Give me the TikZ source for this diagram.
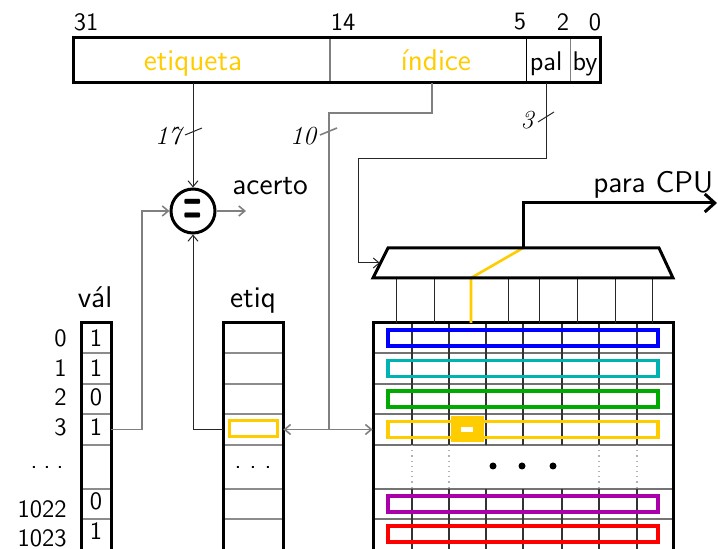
\documentclass[tikz,border=0pt]{standalone}
\usepackage{fontspec}
\usetikzlibrary{arrows.meta}
\definecolor{amar}{RGB}{255,204,0}
\definecolor{azul}{RGB}{0,0,255}
\definecolor{ciano}{RGB}{0,178,178}
\definecolor{verde}{RGB}{0,170,0}
\definecolor{roxo}{RGB}{170,0,170}
\definecolor{verm}{RGB}{255,0,0}
\begin{document}
\begin{tikzpicture}[x=0.5pt,y=-0.5pt,
  frame/.style={line width=1.5pt},
  sep/.style={draw=black!45,line width=0.6pt},
  wire/.style={draw=black!85,line width=0.5pt},
  gwire/.style={draw=black!50,line width=0.8pt},
  tip/.style={-{Straight Barb[length=3pt,width=5pt]}},
  tips/.style={{Straight Barb[length=3pt,width=5pt]}-{Straight Barb[length=3pt,width=5pt]}},
  lbl/.style={font=\sffamily\fontsize{15}{18}\selectfont, inner sep=0},
  small/.style={font=\sffamily\fontsize{13.5}{16}\selectfont, inner sep=0},
  num/.style={font=\sffamily\fontsize{12.5}{15}\selectfont, inner sep=0},
  bus/.style={font=\rmfamily\itshape\fontsize{13}{15}\selectfont, inner sep=0},
  cell/.style={inner sep=0, minimum height=15pt},
  rowbox/.style={line width=1.6pt},
]
\useasboundingbox (0,0) rectangle (718,549);

% ---------------- address register ----------------
\draw[draw=black!50,line width=0.8pt] (330,38) -- (330,83);
\draw[line width=0.5pt] (526,38) -- (526,83);
\draw[draw=black!50,line width=0.5pt] (570,38) -- (570,83);
\draw[frame] (73,38) rectangle (600,83);
\node[lbl, text=amar, anchor=base] (etq) at (193,71) {etiqueta};
\node[lbl, text=amar, anchor=base] (idx) at (436,71) {índice};
\node[small, anchor=base] (pal) at (546,71) {pal};
\node[small, anchor=base] (by) at (585,71) {by};
\node[num] (b31) at (86,22) {31};
\node[num] (b14) at (343,22) {14};
\node[num] (b5) at (520,22) {5};
\node[num] (b2) at (563,22) {2};
\node[num] (b0) at (595,22) {0};
\coordinate (addrS) at (0,83);
\coordinate (idxS) at (432,83);
\coordinate (palS) at (546,83);

% ---------------- comparator ----------------
\node[circle, draw, line width=1.5pt, minimum size=22pt, inner sep=0,
      font=\sffamily\bfseries\fontsize{18}{18}\selectfont] (cmp) at (193,211) {\scalebox{0.6}[1.65]{=}};
\coordinate (acEnd) at (246,211);
\draw[gwire, tip] (cmp.east) -- (acEnd);
\node[lbl, anchor=base west] (acerto) at (232,195) {acerto};

% ---------------- valid column ----------------
\foreach \y in {353,384,414,445,489,519} \draw[sep] (81,\y) -- (111,\y);
\draw[frame] (81,550) -- (81,323) -- (111,323) -- (111,550);
\node[lbl, anchor=base] (valt) at (95,308) {vál};
\node[cell, minimum width=15pt] (v3) at (96,429.5) {};
\foreach \t/\y in {1/347,1/377,0/406,1/436,0/510,1/540}
  \node[num, anchor=base] at (96,\y) {\t};
\foreach \t/\y in {0/347,1/377,2/406,3/436,1022/518,1023/547}
  \node[num, anchor=base east] at (67,\y) {\t};
\node[num, anchor=base] (vdots) at (47,469) {.\hspace{0.25em}.\hspace{0.25em}.};

% ---------------- tag column ----------------
\foreach \y in {353,384,414,445,489,519} \draw[sep] (223,\y) -- (283,\y);
\draw[frame] (223,550) -- (223,323) -- (283,323) -- (283,550);
\node[lbl, anchor=base] (etiqt) at (253,308) {etiq};
\draw[amar, line width=1.5pt] (229,421) rectangle (277,437);
\node[cell, minimum width=30pt] (e3) at (253,429.5) {};
\node[num, anchor=base] (edots) at (253,469) {.\ .\ .};

% ---------------- data block ----------------
\foreach \y in {353,384,414,445,489,519} \draw[draw=black!55,line width=0.8pt] (373,\y) -- (673,\y);
\foreach \x in {412,449,486,523,562,599,637} {
  \draw[draw=black!80,line width=0.6pt] (\x,323) -- (\x,445);
  \draw[draw=black!80,line width=0.6pt] (\x,489) -- (\x,550);
}
\foreach \x in {412,449,599,637}
  \draw[draw=black!30,line width=0.6pt,dotted] (\x,445) -- (\x,489);
\foreach \c/\y in {azul/338,ciano/368.5,verde/399,amar/429.5,roxo/504,verm/534}
  \draw[rowbox, \c] (388,\y-8) rectangle (658,\y+8);
\fill[amar] (451,416) rectangle (484,442);
\fill[white] (461,427) rectangle (473,432);
\foreach \x in {493,522,553} \fill (\x,466) circle (3.5);
\draw[frame] (373,550) -- (373,323) -- (673,323) -- (673,550);
\node[cell, minimum width=150pt] (d3) at (523,429.5) {};

% ---------------- multiplexer ----------------
\foreach \x in {396,434,508,539,577,615,652} \draw[wire] (\x,278) -- (\x,323);
\coordinate (muxOut) at (523,248);
\coordinate (muxIn) at (380,263);
\draw[amar, line width=1.3pt] (471,323) -- (471,278) -- (muxOut);
\draw[frame] (373,278) -- (388,248) -- (659,248) -- (673,278) -- cycle;
\coordinate (cpu) at (717,203);
\draw[frame, -{Straight Barb[length=5pt,width=9pt]}] (muxOut) |- (cpu);
\node[lbl, anchor=base west] (para) at (593,193) {para CPU};

% ---------------- connectors ----------------
\draw[wire, tip] (etq |- addrS) -- (cmp.north);
\draw[wire] (185,135) -- (202,128);
\node[bus] (n17) at (168,136) {17};

\coordinate (ib2) at (329,113);
\coordinate (jn) at (329,429.5);
\draw[gwire] (idxS) |- (ib2) -- (jn);
\draw[gwire] (320,135) -- (337,128);
\node[bus] (n10) at (303,136) {10};
\draw[gwire, tips] (e3.east) -- (d3.west);

\coordinate (pb) at (358,159);
\draw[wire, tip] (palS) |- (pb) |- (muxIn);
\draw[wire] (538,122) -- (554,112);
\node[bus] (n3) at (527,120) {3};

\coordinate (vb) at (142,429.5);
\draw[gwire, tip] (v3.east) -- (vb) |- (cmp.west);
\draw[wire, tip] (e3.west) -| (cmp.south);
\end{tikzpicture}
\end{document}
